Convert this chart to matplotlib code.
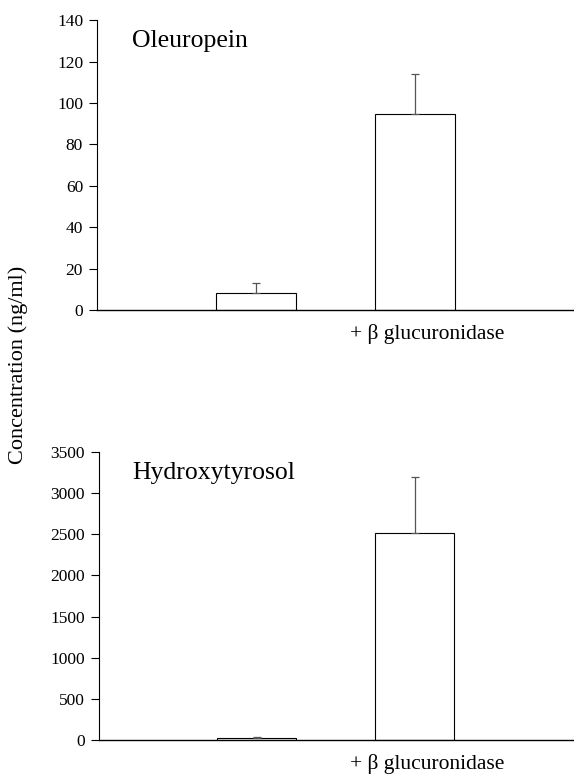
import numpy as np
import matplotlib
matplotlib.use('Agg')
import matplotlib.pyplot as plt

plt.rcParams['font.family'] = ['Liberation Serif', 'DejaVu Serif']

# 數據
positions = [1, 2]
treatment_label = '+ β glucuronidase'
oleuropein = [8, 94.5]
oleuropein_err = [5, 19.5]
hydroxytyrosol = [25, 2520]
hydroxytyrosol_err = [10, 680]

fig = plt.figure(figsize=(5.74, 7.74), dpi=100)
ax1 = fig.add_axes([0.169, 0.5995, 0.831, 0.3745])
ax2 = fig.add_axes([0.1725, 0.044, 0.8255, 0.372])


def draw(ax, vals, errs, ymax, step, title, title_x):
    ax.bar(positions, vals, width=0.5, color='white', edgecolor='black', linewidth=0.8)
    ax.errorbar(positions, vals, yerr=[np.zeros(len(errs)), errs], fmt='none',
                ecolor='#555555', elinewidth=0.9, capsize=3, capthick=0.9)
    ax.set_xlim(0, 3)
    ax.set_ylim(0, ymax)
    ax.set_yticks(np.arange(0, ymax + 1, step))
    ax.set_xticks([])
    ax.tick_params(axis='y', direction='out', length=6, labelsize=12.5, width=0.8, pad=4)
    for s in ['top', 'right']:
        ax.spines[s].set_visible(False)
    ax.spines['left'].set_linewidth(0.8)
    ax.spines['bottom'].set_linewidth(1.0)
    ax.text(title_x, 0.906, title, transform=ax.transAxes, fontsize=18.5, va='baseline')
    # 處理組標籤（在第二根柱子下方）
    ax.annotate(treatment_label, xy=(positions[1], 0), xycoords='data',
                xytext=(12, -24), textcoords='offset pixels',
                ha='center', va='center', fontsize=15.5, annotation_clip=False)


draw(ax1, oleuropein, oleuropein_err, 140, 20, 'Oleuropein', 0.073)
draw(ax2, hydroxytyrosol, hydroxytyrosol_err, 3500, 500, 'Hydroxytyrosol', 0.070)

fig.text(0.031, 0.528, 'Concentration (ng/ml)', rotation=90, fontsize=16, ha='center', va='center')

fig.savefig('out.png', dpi=100)
